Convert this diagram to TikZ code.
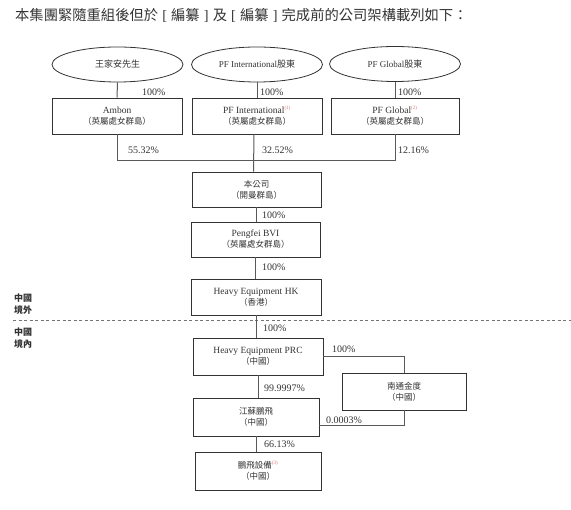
\documentclass[tikz,border=0pt]{standalone}
\usepackage{fontspec}
\setmainfont{Liberation Serif}
\newfontfamily\cjk{Noto Sans CJK TC}
\usetikzlibrary{shapes.geometric,calc}
\definecolor{supc}{rgb}{0.85,0.45,0.45}
\definecolor{ink}{rgb}{0.2,0.2,0.2}
\newcommand\zh[1]{{\cjk\fontsize{8.5}{11}\selectfont #1}}
\newcommand\sups[1]{\textsuperscript{\color{supc}\fontsize{5}{5}\selectfont(#1)}}
\newcommand\brl{\makebox[13pt][c]{\rmfamily[}}
\newcommand\brr{\makebox[13pt][c]{\rmfamily]}}
\tikzset{
  box/.style={draw=ink, line width=0.8pt, minimum width=130pt, minimum height=36pt,
    inner sep=0pt, align=center, font=\fontsize{9.5}{11}\selectfont, text=ink},
  oval/.style={ellipse, draw=ink, line width=0.8pt, minimum width=131pt, minimum height=35pt,
    inner sep=0pt, align=center, font=\fontsize{9}{11}\selectfont, text=ink},
  conn/.style={draw=black!65, line width=1pt},
  pct/.style={anchor=west, inner sep=0pt, font=\fontsize{10}{12}\selectfont, text=ink},
  side/.style={anchor=west, align=left, inner sep=0pt, font=\cjk\bfseries\fontsize{9}{12}\selectfont, text=ink},
  divider/.style={draw=black!55, line width=0.8pt, dash pattern=on 3pt off 2.5pt}
}
\begin{document}
\begin{tikzpicture}[x=1pt,y=-1pt]
\useasboundingbox (0,0) rectangle (571,510);
% title
\node[anchor=west, inner sep=0pt, text=ink, font=\cjk\fontsize{14.3}{16}\selectfont] (title) at (15,15)
  {本集團緊隨重組後但於\brl 編纂\brr 及\brl 編纂\brr 完成前的公司架構載列如下：};
% ellipses
\node[oval] (e1) at (117.5,64.5) {\zh{\fontsize{9}{11}\selectfont 王家安先生}};
\node[oval] (e2) at (257,64.5) {PF International\zh{\fontsize{9}{11}\selectfont 股東}};
\node[oval] (e3) at (395,64) {PF Global\zh{\fontsize{9}{11}\selectfont 股東}};
% row of BVI holding boxes
\node[box] (ambon) at (117,116) {Ambon\\\zh{（英屬處女群島）}};
\node[box] (pfi) at (257,116) {PF International\sups{1}\\\zh{（英屬處女群島）}};
\node[box, minimum width=128pt] (pfg) at (395,116) {PF Global\sups{2}\\\zh{（英屬處女群島）}};
% chain
\node[box, minimum width=129pt, minimum height=35pt] (cmp) at (256.5,189.5) {\zh{本公司}\\\zh{（開曼群島）}};
\node[box, minimum width=129pt, minimum height=35pt] (bvi) at (255.5,239.5) {Pengfei BVI\\\zh{（英屬處女群島）}};
\node[box] (hk) at (256,297) {Heavy Equipment HK\\\zh{（香港）}};
\node[box, minimum height=37pt] (prc) at (258,356.5) {Heavy Equipment PRC\\\zh{（中國）}};
\node[box, minimum width=124pt, minimum height=37pt] (nt) at (404,391.5) {\zh{南通金度}\\\zh{（中國）}};
\node[box, minimum width=126pt, minimum height=38pt] (js) at (256,417) {\zh{江蘇鵬飛}\\\zh{（中國）}};
\node[box, minimum width=126pt, minimum height=38pt] (pfe) at (258,471) {\zh{鵬飛設備}\sups{3}\\\zh{（中國）}};
% side labels and divider
\node[side] (out) at (14,304) {中國\\境外};
\node[side] (in) at (14,338) {中國\\境內};
\coordinate (dl) at (13,320);
\coordinate (dr) at (571,320);
\draw[divider] (dl) -- (dr);
% connectors
\coordinate (hb) at (0,161);
\draw[conn] (e1.south) -- (ambon.north);
\draw[conn] (e2.south) -- (pfi.north);
\draw[conn] (e3.south) -- (pfg.north);
\draw[conn] (ambon.south) -- (ambon.south |- hb) -- (pfg.south |- hb) -- (pfg.south);
\draw[conn] ($(pfi.south)+(-3,0)$) -- ($(cmp.north)+(-3,0)$);
\draw[conn] (cmp.south) -- (cmp.south |- bvi.north);
\draw[conn] (bvi.south) -- (bvi.south |- hk.north);
\draw[conn] (hk.south) -- (hk.south |- prc.north);
\draw[conn] (prc.south) -- (prc.south |- js.north);
\draw[conn] (js.south) -- (js.south |- pfe.north);
\draw[conn] (prc.east) -| (nt.north);
\draw[conn] ($(js.east)+(0,9)$) -| (nt.south);
% percentages
\node[pct] (p1) at (142,92) {100\%};
\node[pct] (p2) at (260,92) {100\%};
\node[pct] (p3) at (398,92) {100\%};
\node[pct] (p4) at (128,150) {55.32\%};
\node[pct] (p5) at (262,150) {32.52\%};
\node[pct] (p6) at (398,150) {12.16\%};
\node[pct] (p7) at (262,215) {100\%};
\node[pct] (p8) at (262,267) {100\%};
\node[pct] (p9) at (263,328) {100\%};
\node[pct] (p10) at (332,349) {100\%};
\node[pct] (p11) at (264,388) {99.9997\%};
\node[pct] (p12) at (326,420) {0.0003\%};
\node[pct] (p13) at (264,444) {66.13\%};
\end{tikzpicture}
\end{document}
